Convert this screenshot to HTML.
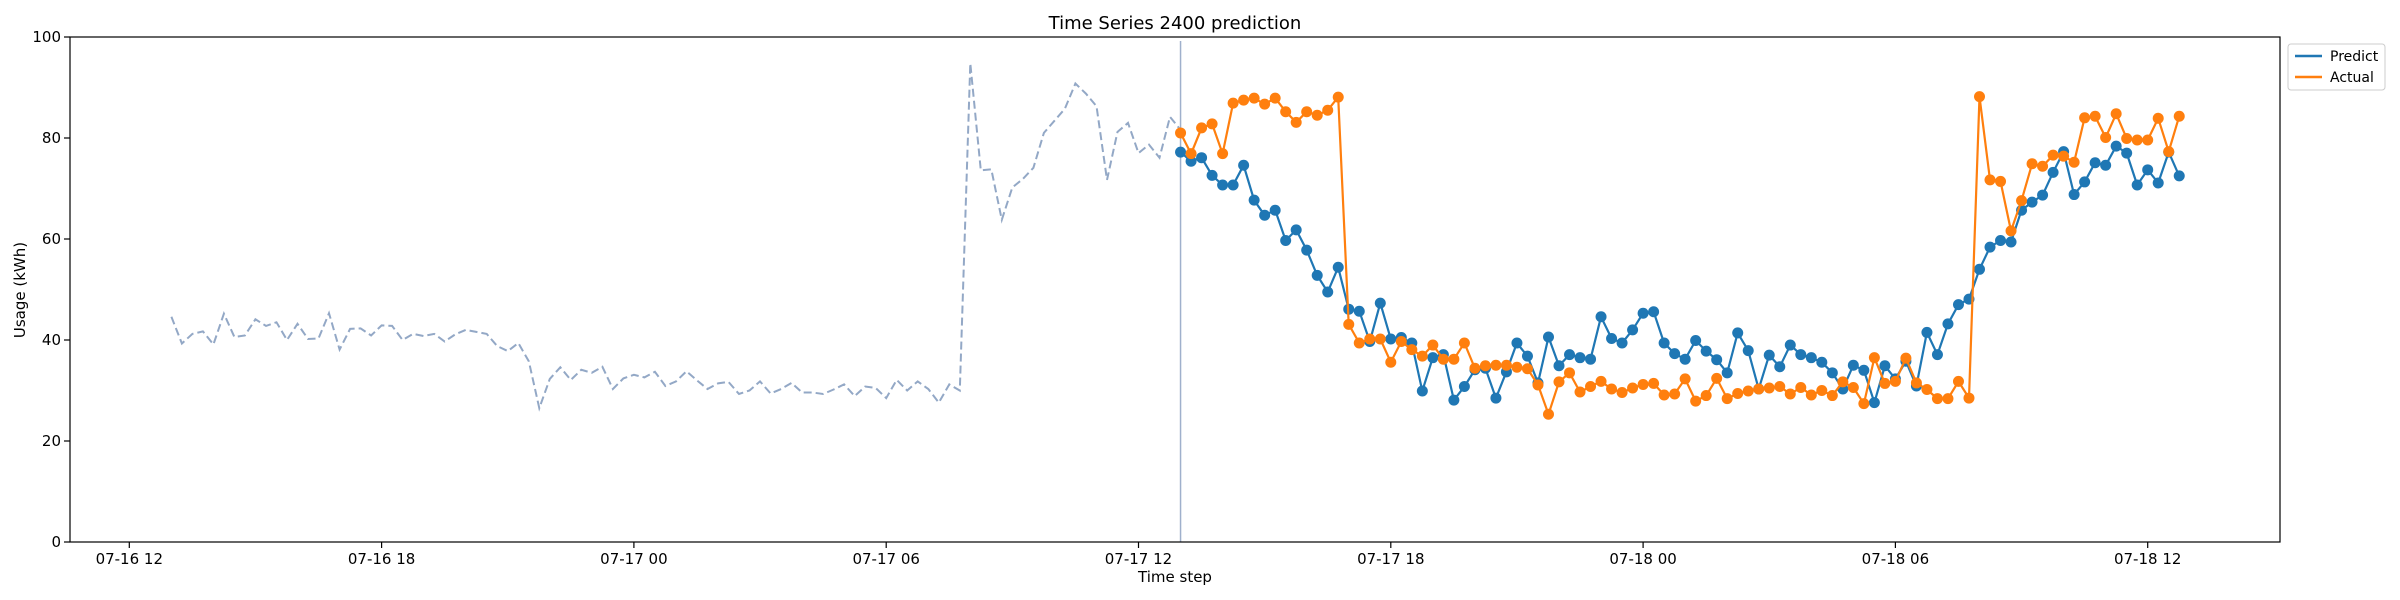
<!DOCTYPE html>
<html><head><meta charset="utf-8">
<style>
html,body{margin:0;padding:0;background:#fff;}
svg{display:block;font-family:"DejaVu Sans","Liberation Sans",sans-serif;}
</style></head>
<body>
<svg id="chart" width="2400" height="600" viewBox="0 0 2400 600" xmlns="http://www.w3.org/2000/svg">
<text x="1175" y="29" font-size="18" text-anchor="middle">Time Series 2400 prediction</text>
<text x="0" y="0" font-size="15" text-anchor="middle" transform="translate(25,290) rotate(-90)">Usage (kWh)</text>
<text x="1175" y="582" font-size="15" text-anchor="middle">Time step</text>
<g id="grid"></g>
<g id="marks"></g>
<rect x="70" y="37" width="2210" height="505" fill="none" stroke="#000" stroke-width="1.2"/>
<g>
<rect x="2288" y="44" width="97" height="46" rx="3" fill="#fff" stroke="#ccc"/>
<line x1="2295" y1="56" x2="2322" y2="56" stroke="#1f77b4" stroke-width="2.5"/>
<text x="2330" y="61" font-size="14">Predict</text>
<line x1="2295" y1="77" x2="2322" y2="77" stroke="#ff7f0e" stroke-width="2.5"/>
<text x="2330" y="82" font-size="14">Actual</text>
</g>
</svg>
<script>
const xTickLabels = ["07-16 12","07-16 18","07-17 00","07-17 06","07-17 12","07-17 18","07-18 00","07-18 06","07-18 12"];
const yTicks = [0,20,40,60,80,100];
const historyStartHour = 1;    // hours from 07-16 12:00
const predictStartHour = 25;   // 07-17 13:00
const stepHours = 0.25;
const history = [44.6,39.3,41.2,41.7,39.1,45.2,40.6,40.9,44.1,42.8,43.5,40.0,43.2,40.2,40.3,45.3,38.1,42.2,42.3,40.9,42.9,42.8,40.0,41.2,40.8,41.2,39.7,41.1,42.0,41.6,41.2,38.8,37.8,39.4,35.8,26.5,32.3,34.6,32.1,34.1,33.5,34.7,30.3,32.4,33.1,32.6,33.7,30.9,31.8,33.8,32.0,30.3,31.4,31.7,29.3,30.0,31.8,29.4,30.3,31.5,29.6,29.6,29.3,30.2,31.2,28.9,30.8,30.5,28.5,32.1,30.0,31.8,30.3,27.6,31.2,30.0,94.8,73.6,73.8,63.8,70.2,71.9,74.1,81.0,83.4,85.8,90.8,88.8,86.3,71.7,81.2,83.0,77.0,78.7,76.1,84.2,81.6];
const predict = [77.2,75.4,76.1,72.6,70.7,70.7,74.6,67.7,64.7,65.7,59.7,61.8,57.8,52.8,49.5,54.4,46.1,45.7,39.7,47.3,40.2,40.5,39.4,29.9,36.5,37.1,28.1,30.8,34.1,34.4,28.5,33.7,39.4,36.8,31.5,40.6,34.9,37.1,36.5,36.2,44.6,40.3,39.4,42.0,45.3,45.6,39.4,37.3,36.2,39.9,37.8,36.1,33.5,41.4,37.9,30.3,37.0,34.7,39.0,37.1,36.5,35.6,33.5,30.3,35.0,34.0,27.6,34.9,32.3,35.8,30.9,41.5,37.1,43.2,47.0,48.1,54.0,58.4,59.7,59.4,65.7,67.3,68.7,73.2,77.3,68.8,71.3,75.1,74.6,78.4,77.0,70.7,73.7,71.1,77.2,72.5];
const actual = [81.0,76.9,82.0,82.8,76.9,86.9,87.5,87.9,86.7,87.9,85.2,83.1,85.2,84.5,85.5,88.1,43.1,39.4,40.2,40.2,35.6,39.7,38.1,36.8,39.0,36.2,36.2,39.4,34.4,34.9,35.0,35.0,34.6,34.3,31.1,25.3,31.7,33.5,29.7,30.8,31.8,30.3,29.6,30.5,31.2,31.4,29.1,29.3,32.3,27.9,29.0,32.4,28.4,29.4,29.9,30.3,30.5,30.8,29.3,30.6,29.1,30.0,29.0,31.7,30.6,27.4,36.5,31.4,31.8,36.4,31.5,30.2,28.4,28.4,31.8,28.5,88.2,71.7,71.4,61.6,67.6,74.9,74.4,76.6,76.4,75.2,84.0,84.3,80.1,84.8,79.9,79.6,79.6,83.9,77.3,84.3];

const NS = "http://www.w3.org/2000/svg";
const X0 = 129.3, PXH = 42.05, Y0 = 542, Y1 = 37;
function xs(h){ return X0 + h * PXH; }
function ys(v){ return Y0 - (v / 100) * (Y0 - Y1); }
function mk(tag, attrs, parent){
  const e = document.createElementNS(NS, tag);
  for (const k in attrs) e.setAttribute(k, attrs[k]);
  parent.appendChild(e);
  return e;
}
const grid = document.getElementById('grid');
const marks = document.getElementById('marks');

xTickLabels.forEach((lab, i) => {
  const x = xs(i * 6);
  const t = mk('line', {x1:x, y1:Y0, x2:x, y2:Y0+6, stroke:'#000', 'stroke-width':1.2}, grid);
  
  
  const tx = mk('text', {x:x, y:Y0+22, 'font-size':15, 'text-anchor':'middle'}, grid);
  tx.textContent = lab;
  
  
});
yTicks.forEach(v => {
  const y = ys(v);
  const t = mk('line', {x1:64, y1:y, x2:70, y2:y, stroke:'#000', 'stroke-width':1.2}, grid);
  
  
  const tx = mk('text', {x:61, y:y+5, 'font-size':15, 'text-anchor':'end'}, grid);
  tx.textContent = v;
  
  
});

const vline = mk('line', {x1:xs(predictStartHour), y1:Y1+4, x2:xs(predictStartHour), y2:Y0, stroke:'#9fb0cc', 'stroke-width':1.5}, marks);



const hp = history.map((v,i) => xs(historyStartHour + i*stepHours).toFixed(1) + ',' + ys(v).toFixed(1)).join(' ');
const hl = mk('polyline', {points:hp, fill:'none', stroke:'#93a8c6', 'stroke-width':2, 'stroke-dasharray':'8,4'}, marks);



function series(arr, color, name){
  const pts = arr.map((v,i) => xs(predictStartHour + i*stepHours).toFixed(1) + ',' + ys(v).toFixed(1)).join(' ');
  const pl = mk('polyline', {points:pts, fill:'none', stroke:color, 'stroke-width':2.2}, marks);
  
  
  arr.forEach((v,i) => {
    const c = mk('circle', {cx:xs(predictStartHour + i*stepHours), cy:ys(v), r:5.5, fill:color}, marks);
    
    
  });
}
series(predict, '#1f77b4', 'predict');
series(actual, '#ff7f0e', 'actual');
</script>
</body></html>
